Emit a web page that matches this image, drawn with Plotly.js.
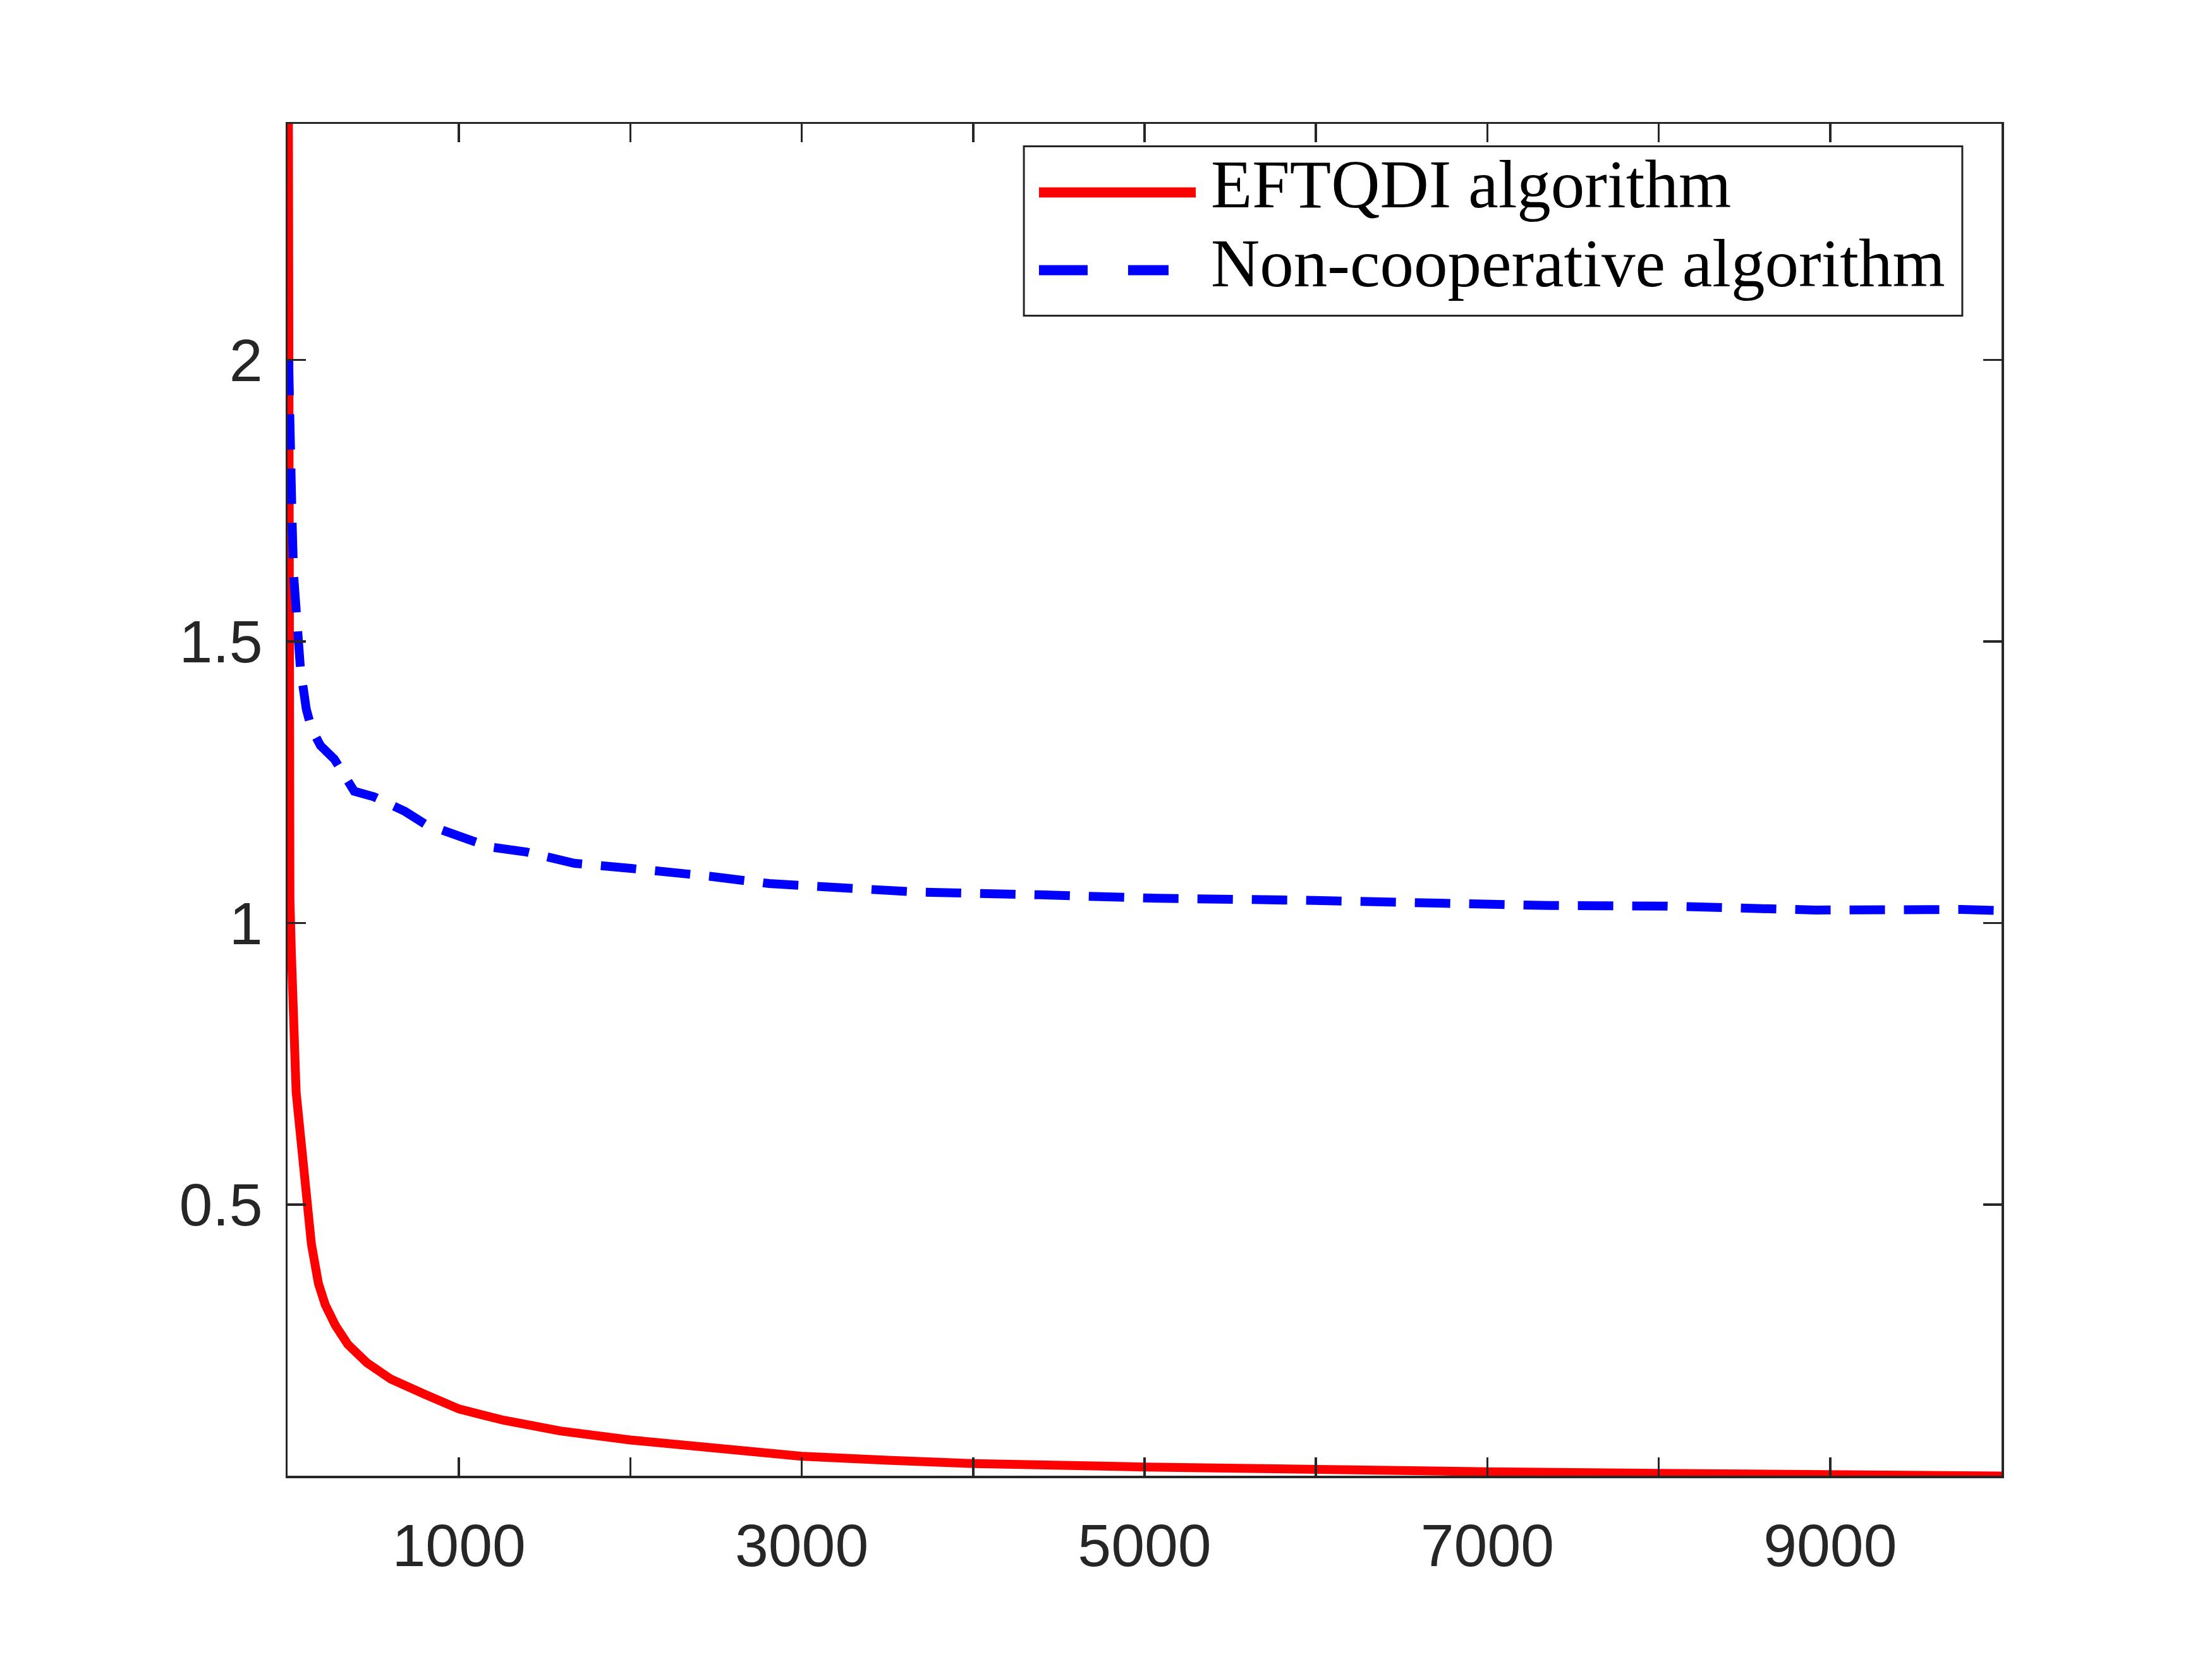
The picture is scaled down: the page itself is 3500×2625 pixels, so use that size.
<!DOCTYPE html>
<html>
<head>
<meta charset="utf-8">
<title>EFTQDI vs non-cooperative</title>
<script src="https://cdn.plot.ly/plotly-3.0.1.min.js"></script>
<style>
  html, body { margin: 0; padding: 0; background: #ffffff; }
  #chart { width: 3500px; height: 2625px; }
</style>
</head>
<body>
<div id="chart"></div>
<script>
(function () {
  "use strict";

  // EFTQDI algorithm (red, solid)
  var eftqdiX = [4, 5, 6, 8, 14, 22, 30, 37, 50, 68, 85, 104, 139, 180, 220, 280,
    351, 463, 603, 800, 1000, 1261, 1590, 2000, 2500, 3000, 3500, 4000, 5000,
    6000, 7000, 8000, 9000, 10000];
  var eftqdiY = [2.6, 1.9, 1.3, 1.12, 1.04, 0.95, 0.88, 0.77, 0.70, 0.645, 0.585,
    0.524, 0.43, 0.36, 0.322, 0.285, 0.252, 0.219, 0.19, 0.163, 0.137, 0.117,
    0.098, 0.082, 0.066, 0.053, 0.046, 0.040, 0.034, 0.028, 0.0255, 0.0228,
    0.020, 0.018];

  // Non-cooperative algorithm (blue, dashed)
  var nonCoopX = [6, 12, 20, 26, 35, 52, 76, 95, 109, 140, 192, 273, 330, 389,
    505, 686, 800, 981, 1180, 1394, 1674, 2002, 2139, 2463, 2810, 3252, 3666,
    4389, 5063, 5993, 6667, 7364, 8038, 8916, 9768, 10000];
  var nonCoopY = [2.0, 1.85, 1.75, 1.72, 1.62, 1.534, 1.448, 1.41, 1.38, 1.345,
    1.315, 1.291, 1.26, 1.234, 1.224, 1.198, 1.176, 1.155, 1.135, 1.126, 1.106,
    1.097, 1.094, 1.083, 1.070, 1.061, 1.055, 1.050, 1.044, 1.040, 1.035, 1.031,
    1.030, 1.023, 1.024, 1.022];

  var xTickVals = [1000, 2000, 3000, 4000, 5000, 6000, 7000, 8000, 9000];
  var xTickText = ["1000", "", "3000", "", "5000", "", "7000", "", "9000"];
  var yTickVals = [0.5, 1, 1.5, 2];
  var yTickText = ["0.5", "1", "1.5", "2"];

  var legendNames = ["EFTQDI algorithm", "Non-cooperative algorithm"];

  var AXIS_COLOR = "#262626";
  var TICK_FONT = { family: "Liberation Sans, Arial, sans-serif", size: 95, color: AXIS_COLOR };
  var LEGEND_FONT = { family: "Liberation Serif, Times New Roman, serif", size: 107, color: "#000000" };

  var traces = [
    {
      type: "scatter",
      mode: "lines",
      x: eftqdiX,
      y: eftqdiY,
      name: legendNames[0],
      line: { color: "#ff0000", width: 14 },
    },
    {
      type: "scatter",
      mode: "lines",
      x: nonCoopX,
      y: nonCoopY,
      name: legendNames[1],
      line: { color: "#0000ff", width: 14, dash: "56px,30px" },
    },
  ];

  var axisCommon = {
    showline: true,
    linecolor: AXIS_COLOR,
    linewidth: 3.5,
    mirror: "ticks",
    ticks: "inside",
    ticklen: 29,
    tickwidth: 3.5,
    tickcolor: AXIS_COLOR,
    showgrid: false,
    zeroline: false,
    tickfont: TICK_FONT,
    tickmode: "array",
  };

  var layout = {
    width: 3500,
    height: 2625,
    paper_bgcolor: "#ffffff",
    plot_bgcolor: "#ffffff",
    showlegend: false,
    margin: { l: 455, r: 333, t: 196, b: 290 },
    xaxis: Object.assign({}, axisCommon, {
      range: [0, 10000],
      tickvals: xTickVals,
      ticktext: xTickText,
      ticklabelstandoff: 25,
    }),
    yaxis: Object.assign({}, axisCommon, {
      range: [0.0185, 2.419],
      tickvals: yTickVals,
      ticktext: yTickText,
      ticklabelstandoff: 17,
    }),
    // hand-built legend box so the sample lines match the original length
    shapes: [
      {
        type: "rect", xref: "paper", yref: "paper",
        x0: 0.4296, x1: 0.9771, y0: 0.8581, y1: 0.9834,
        line: { color: AXIS_COLOR, width: 3 }, fillcolor: "#ffffff",
      },
      {
        type: "line", xref: "paper", yref: "paper",
        x0: 0.4384, x1: 0.5299, y0: 0.9493, y1: 0.9493,
        line: { color: "#ff0000", width: 16 },
      },
      {
        type: "line", xref: "paper", yref: "paper",
        x0: 0.4384, x1: 0.5140, y0: 0.8918, y1: 0.8918,
        line: { color: "#0000ff", width: 16, dash: "77px,64px" },
      },
    ],
    annotations: [
      {
        xref: "paper", yref: "paper", x: 0.5380, y: 0.9549,
        xanchor: "left", yanchor: "middle", showarrow: false,
        text: legendNames[0], font: LEGEND_FONT,
      },
      {
        xref: "paper", yref: "paper", x: 0.5380, y: 0.8969,
        xanchor: "left", yanchor: "middle", showarrow: false,
        text: legendNames[1], font: LEGEND_FONT,
      },
    ],
  };

  Plotly.newPlot("chart", traces, layout, { staticPlot: true, displayModeBar: false });
}());
</script>
</body>
</html>
